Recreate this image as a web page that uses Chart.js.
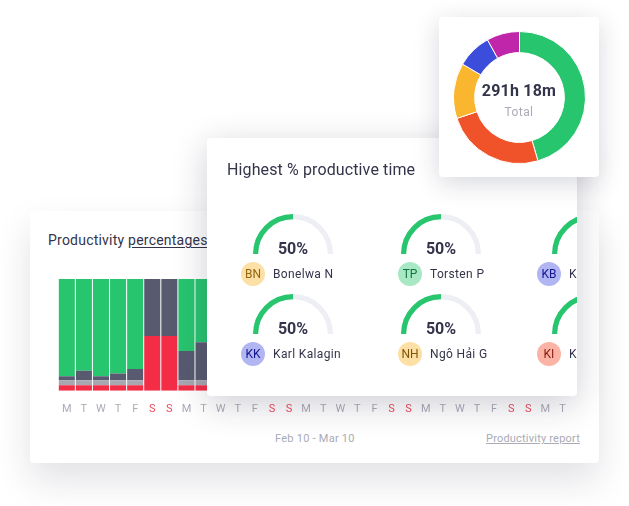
<!DOCTYPE html>
<html>
<head>
<meta charset="utf-8">
<title>Productivity</title>
<script src="https://cdn.jsdelivr.net/npm/chart.js@4"></script>
<style>
  html, body { margin: 0; padding: 0; background: #fff; }
  body { position: relative; width: 629px; height: 506px; overflow: hidden; font-family: Roboto, sans-serif; color: #33344a; }
  .card { position: absolute; background: #fff; border-radius: 4px; overflow: hidden; }
  canvas { position: absolute; display: block; }
  .abs { position: absolute; white-space: nowrap; }

  /* Productivity card (back) */
  #cardBars { left: 30px; top: 211px; width: 569px; height: 252px; box-shadow: 0 18px 36px rgba(30,32,60,0.13); }
  #barTitle { left: 18px; top: 20px; font-size: 14px; line-height: 18px; letter-spacing: 0.22px; }
  #barTitle u { text-underline-offset: 2px; }
  #barWrap { position: absolute; left: 28px; top: 68px; width: 513px; height: 141px; }
  #range { left: 245px; top: 221px; font-size: 11px; line-height: 14px; color: #a9abb6; letter-spacing: 0.25px; }
  #report { right: 19px; top: 221px; font-size: 11px; line-height: 14px; color: #a9abb6; letter-spacing: 0.2px; text-decoration: underline; }

  /* Highest % card (middle) */
  #cardGauges { left: 207px; top: 138px; width: 370px; height: 258px; box-shadow: 0 8px 34px rgba(30,32,60,0.22); }
  #gaugeTitle { left: 20px; top: 21px; font-size: 16px; line-height: 21px; letter-spacing: 0.12px; }
  .pct { width: 80px; text-align: center; font-size: 16px; font-weight: 700; line-height: 20px; }
  .avatar { width: 24px; height: 24px; border-radius: 50%; text-align: center; font-size: 12px; line-height: 24px; }
  .name { font-size: 12px; line-height: 24px; letter-spacing: 0.35px; }

  /* Total card (front) */
  #cardTotal { left: 439px; top: 17px; width: 160px; height: 160px; box-shadow: 0 6px 26px rgba(30,32,60,0.18); }
  #donutWrap { position: absolute; left: 13.5px; top: 13.5px; width: 133px; height: 133px; }
  #totalValue { left: 0; width: 160px; top: 63px; text-align: center; font-size: 16px; font-weight: 700; line-height: 22px; letter-spacing: 0.2px; }
  #totalLabel { left: 0; width: 160px; top: 87px; text-align: center; font-size: 12px; line-height: 16px; color: #a9abb6; letter-spacing: 0.4px; }
</style>
</head>
<body>

<div class="card" id="cardBars">
  <div class="abs" id="barTitle">Productivity <u>percentages</u></div>
  <div id="barWrap"><canvas id="barChart"></canvas></div>
  <div class="abs" id="range">Feb 10 - Mar 10</div>
  <div class="abs" id="report">Productivity report</div>
</div>

<div class="card" id="cardGauges">
  <div class="abs" id="gaugeTitle">Highest % productive time</div>
</div>

<div class="card" id="cardTotal">
  <div id="donutWrap"><canvas id="donutChart"></canvas></div>
  <div class="abs" id="totalValue">291h 18m</div>
  <div class="abs" id="totalLabel">Total</div>
</div>

<script>
/* ── Data ── */
const dayLabels = ['M','T','W','T','F','S','S','M','T','W','T','F','S','S','M','T','W','T','F','S','S','M','T','W','T','F','S','S','M','T'];
const redValues   = [5, 5, 5, 5, 5, 49, 49, 5, 5, 5, 5, 5, 49, 49, 5, 5, 5, 5, 5, 49, 49, 5, 5, 5, 5, 5, 49, 49, 5, 5];
const grayValues  = [4.5, 4.5, 4.5, 4.5, 4.5, 0, 0, 4.5, 4.5, 4.5, 4.5, 4.5, 0, 0, 4.5, 4.5, 4.5, 4.5, 4.5, 0, 0, 4.5, 4.5, 4.5, 4.5, 4.5, 0, 0, 4.5, 4.5];
const darkValues  = [3.5, 8.5, 3.5, 6, 10, 51, 51, 26, 34, 8, 6, 5, 51, 51, 7, 9, 4, 6, 8, 51, 51, 10, 6, 5, 7, 4, 51, 51, 8, 6];
const greenValues = [87, 82, 87, 84.5, 80.5, 0, 0, 64.5, 56.5, 82.5, 84.5, 85.5, 0, 0, 83.5, 81.5, 86.5, 84.5, 82.5, 0, 0, 80.5, 84.5, 85.5, 83.5, 86.5, 0, 0, 82.5, 84.5];

const donutLabels = ['Productive', 'Unproductive', 'Neutral', 'Idle', 'Other'];
const donutHours  = [132.5, 71, 39.5, 24.75, 23.5];

const gaugeNames    = ['Bonelwa N', 'Torsten P', 'K', 'Karl Kalagin', 'Ngô Hải G', 'K'];
const gaugeInitials = ['BN', 'TP', 'KB', 'KK', 'NH', 'KI'];
const gaugePercents = [50, 50, 50, 50, 50, 50];

/* ── Styles ── */
const GREEN = '#28c56f';
const DARK  = '#585b70';
const GRAY  = '#a6a7b1';
const RED   = '#f42d47';
const TICK  = '#aaacb7';
const TICK_WEEKEND = '#ef4a5c';
const DONUT_COLORS = [GREEN, '#f05229', '#f9b62e', '#3d4ddb', '#c026a9'];

const AVATARS = {
  BN: ['#fde0a6', '#94660f'],
  TP: ['#a9e8c5', '#12743f'],
  KB: ['#b1b6f2', '#14148c'],
  KK: ['#b1b6f2', '#14148c'],
  NH: ['#fde0a6', '#7f5608'],
  KI: ['#fab3a4', '#8a1b10'],
};

Chart.defaults.animation = false;
Chart.defaults.font.family = 'Roboto, sans-serif';
Chart.defaults.responsive = true;
Chart.defaults.maintainAspectRatio = false;
Chart.defaults.plugins.legend.display = false;
Chart.defaults.plugins.tooltip.enabled = false;

/* ── Stacked bars ── */
function barSet(data, color) {
  return { data, backgroundColor: color, borderWidth: 0, barPercentage: 1, categoryPercentage: 0.94 };
}

new Chart(document.getElementById('barChart'), {
  type: 'bar',
  data: {
    labels: dayLabels,
    datasets: [barSet(redValues, RED), barSet(grayValues, GRAY), barSet(darkValues, DARK), barSet(greenValues, GREEN)],
  },
  options: {
    layout: { autoPadding: false, padding: 0 },
    scales: {
      x: {
        stacked: true,
        offset: true,
        grid: { display: false },
        border: { display: false },
        ticks: {
          autoSkip: false,
          maxRotation: 0,
          padding: 4,
          font: { size: 11 },
          color: (c) => (dayLabels[c.index] === 'S' ? TICK_WEEKEND : TICK),
        },
      },
      y: { stacked: true, display: false, min: 0, max: 100 },
    },
  },
});

/* ── Total donut ── */
new Chart(document.getElementById('donutChart'), {
  type: 'doughnut',
  data: {
    labels: donutLabels,
    datasets: [{ data: donutHours, backgroundColor: DONUT_COLORS, borderColor: '#fff', borderWidth: 1 }],
  },
  options: { cutout: '68%', layout: { padding: 0 } },
});

/* ── Gauges ── */
const cardGauges = document.getElementById('cardGauges');
const GAUGE_X  = [46, 194, 345];      // arc left edge, per column
const AVATAR_X = [34, 191, 330];      // avatar left edge, per column
const ROW_Y    = [76, 156];           // arc top, per row

function addEl(cls, text, left, top) {
  const el = document.createElement('div');
  el.className = 'abs ' + cls;
  el.textContent = text;
  el.style.left = left + 'px';
  el.style.top = top + 'px';
  cardGauges.appendChild(el);
  return el;
}

gaugeNames.forEach((name, i) => {
  const col = i % 3;
  const y = ROW_Y[Math.floor(i / 3)];

  const wrap = document.createElement('div');
  wrap.style.cssText = `position:absolute;left:${GAUGE_X[col]}px;top:${y}px;width:80px;height:40px;`;
  const canvas = document.createElement('canvas');
  wrap.appendChild(canvas);
  cardGauges.appendChild(wrap);

  new Chart(canvas, {
    type: 'doughnut',
    data: { datasets: [{ data: [gaugePercents[i], 100 - gaugePercents[i]], backgroundColor: [GREEN, '#eeeff4'], borderWidth: 0 }] },
    options: { rotation: -90, circumference: 180, cutout: '87%', layout: { padding: 0 } },
  });

  addEl('pct', gaugePercents[i] + '%', GAUGE_X[col], y + 25);

  const initials = gaugeInitials[i];
  const avatar = addEl('avatar', initials, AVATAR_X[col], y + 48);
  avatar.style.background = AVATARS[initials][0];
  avatar.style.color = AVATARS[initials][1];

  addEl('name', name, AVATAR_X[col] + 32, y + 48);
});
</script>
</body>
</html>
